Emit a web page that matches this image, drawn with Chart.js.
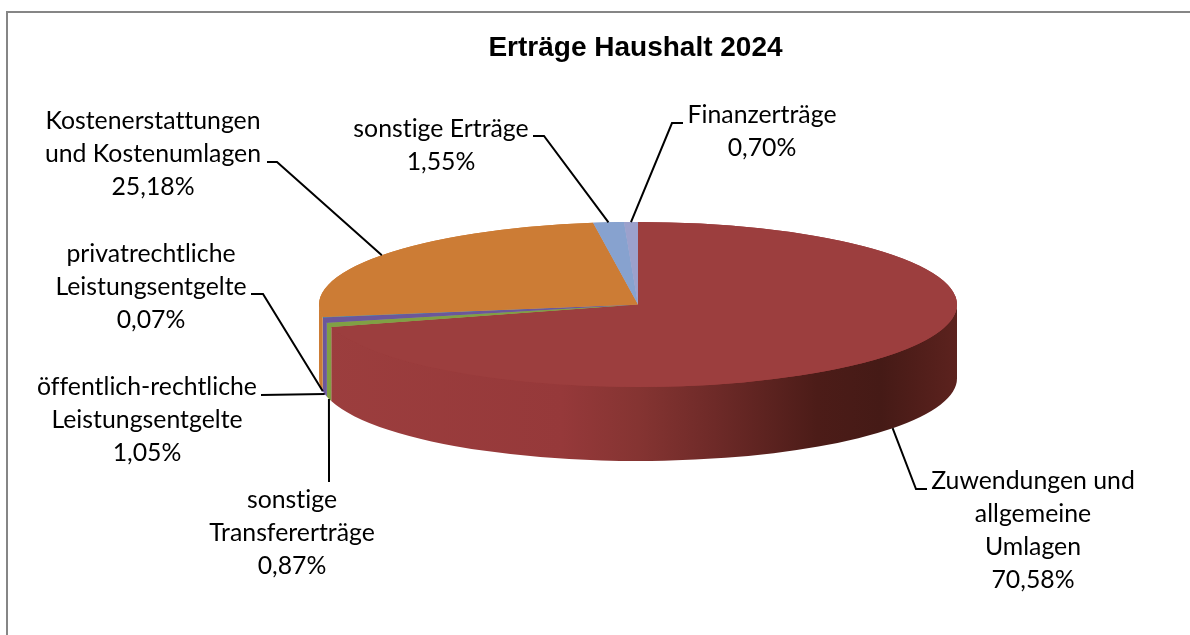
<!DOCTYPE html>
<html lang="de">
<head>
<meta charset="utf-8">
<title>Erträge Haushalt 2024</title>
<script src="https://cdn.jsdelivr.net/npm/chart.js"></script>
<style>
  html, body { margin: 0; padding: 0; background: #fff; }
  canvas { display: block; }
</style>
</head>
<body>
<canvas id="ertraege" width="1190" height="635"></canvas>
<script>
// Werte (im Uhrzeigersinn ab 12 Uhr)
var kategorien = [
  "Zuwendungen und allgemeine Umlagen",
  "sonstige Transfererträge",
  "öffentlich-rechtliche Leistungsentgelte",
  "privatrechtliche Leistungsentgelte",
  "Kostenerstattungen und Kostenumlagen",
  "sonstige Erträge",
  "Finanzerträge",
];
var werte = [70.58, 0.87, 1.05, 0.07, 25.18, 1.55, 0.7];
var farben = ["#9c3e3e", "#80a044", "#6b579b", "#3f8ca0", "#cc7c35", "#87a2cf", "#9ca1cc"];

// Zeilenumbruch der Beschriftungen wie im Original
var zeilen = [
  ["Zuwendungen und", "allgemeine", "Umlagen"],
  ["sonstige", "Transfererträge"],
  ["öffentlich-rechtliche", "Leistungsentgelte"],
  ["privatrechtliche", "Leistungsentgelte"],
  ["Kostenerstattungen", "und Kostenumlagen"],
  ["sonstige Erträge"],
  ["Finanzerträge"],
];

// Layout: Mitte der Beschriftung und Grundlinie der ersten Zeile
var textX = [1033, 292, 147, 151, 153, 441, 762];
var textY = [489, 508, 395, 262, 129, 137, 123];
var zeilenAbstand = 33;

// Führungslinien: Punkte von der Beschriftung bis vor das Tortenstück
var linien = [
  [[927, 489], [916, 489]],
  [[329, 482]],
  [[261, 395]],
  [[251, 294], [263, 294]],
  [[267, 162], [277, 162]],
  [[533, 136], [544, 136]],
  [[683, 123], [672, 123]],
];

// Ellipse der Torte
var mitteX = 638;
var mitteY = 304.5;
var radiusX = 319;
var radiusY = 82.5;
var tiefe = 74;

function wandFarbe(ctx, i) {
  if (i !== 0) return farben[i];
  // nur das grosse Stueck hat den dunklen Verlauf
  var g = ctx.createLinearGradient(mitteX - radiusX, 0, mitteX + radiusX, 0);
  g.addColorStop(0, "#9c3e3e");
  g.addColorStop(0.38, "#96393a");
  g.addColorStop(0.5, "#853432");
  g.addColorStop(0.62, "#6e2a28");
  g.addColorStop(0.78, "#4c1c18");
  g.addColorStop(0.88, "#451a16");
  g.addColorStop(1, "#5c221e");
  return g;
}

var torte3d = {
  id: "torte3d",
  // Seitenwand unter der Deckflaeche
  beforeDatasetsDraw: function (chart) {
    var ctx = chart.ctx;
    var arcs = chart.getDatasetMeta(0).data;
    arcs.forEach(function (arc, i) {
      var a = Math.max(arc.startAngle, 0);
      var b = Math.min(arc.endAngle, Math.PI);
      if (a >= b) return;
      ctx.save();
      ctx.beginPath();
      // 1px hoeher anfangen, sonst bleibt eine helle Naht zur Deckflaeche
      ctx.ellipse(mitteX, mitteY - 1, radiusX, radiusY, 0, a, b, false);
      ctx.ellipse(mitteX, mitteY + tiefe, radiusX, radiusY, 0, b, a, true);
      ctx.closePath();
      ctx.fillStyle = wandFarbe(ctx, i);
      ctx.fill();
      ctx.restore();
    });
  },
  // Deckflaeche: die Boegen von Chart.js plattgedrueckt zeichnen
  beforeDatasetDraw: function (chart) {
    var ctx = chart.ctx;
    var arcs = chart.getDatasetMeta(0).data;
    var arc = arcs[0];
    ctx.save();
    ctx.translate(mitteX, mitteY);
    ctx.scale(radiusX / arc.outerRadius, radiusY / arc.outerRadius);
    ctx.translate(-arc.x, -arc.y);
    // einmal vorab zeichnen, damit zwischen den Stuecken keine Haarlinien bleiben
    arcs.forEach(function (a) {
      a.draw(ctx);
    });
  },
  afterDatasetDraw: function (chart) {
    chart.ctx.restore();
  },
  afterDatasetsDraw: function (chart) {
    var ctx = chart.ctx;
    var arcs = chart.getDatasetMeta(0).data;

    // Rahmen, rechts und unten abgeschnitten
    ctx.save();
    ctx.strokeStyle = "#868686";
    ctx.lineWidth = 2;
    ctx.beginPath();
    ctx.moveTo(7, 635);
    ctx.lineTo(7, 12);
    ctx.lineTo(1190, 12);
    ctx.stroke();

    // Führungslinien enden am Rand des jeweiligen Stücks
    ctx.strokeStyle = "#000";
    ctx.lineWidth = 2;
    arcs.forEach(function (arc, i) {
      var w = (arc.startAngle + arc.endAngle) / 2;
      var x = mitteX + radiusX * Math.cos(w);
      var y = mitteY + radiusY * Math.sin(w);
      if (Math.sin(w) > 0) y += tiefe;
      ctx.beginPath();
      linien[i].forEach(function (p, n) {
        if (n === 0) ctx.moveTo(p[0], p[1]);
        else ctx.lineTo(p[0], p[1]);
      });
      ctx.lineTo(x, y);
      ctx.stroke();
    });

    // Beschriftungen
    ctx.fillStyle = "#000";
    ctx.font = "24.8px Lato";
    ctx.letterSpacing = "0.01px"; // keine tt-Ligatur
    ctx.textAlign = "center";
    ctx.textBaseline = "alphabetic";
    kategorien.forEach(function (k, i) {
      var text = zeilen[i].concat(werte[i].toFixed(2).replace(".", ",") + "%");
      text.forEach(function (t, n) {
        ctx.fillText(t, textX[i], textY[i] + n * zeilenAbstand);
      });
    });
    ctx.restore();
  },
};

new Chart("ertraege", {
  type: "pie",
  data: {
    labels: kategorien,
    datasets: [
      {
        data: werte,
        backgroundColor: farben,
        borderWidth: 0,
      },
    ],
  },
  options: {
    responsive: false,
    animation: false,
    // Titel sitzt nicht in der Bildmitte
    layout: { padding: { left: 81 } },
    plugins: {
      legend: { display: false },
      tooltip: { enabled: false },
      title: {
        display: true,
        text: "Erträge Haushalt 2024",
        color: "#000",
        font: { family: "'Liberation Sans'", size: 28, weight: "bold" },
        padding: { top: 31, bottom: 10 },
      },
    },
  },
  plugins: [torte3d],
});
</script>
</body>
</html>
